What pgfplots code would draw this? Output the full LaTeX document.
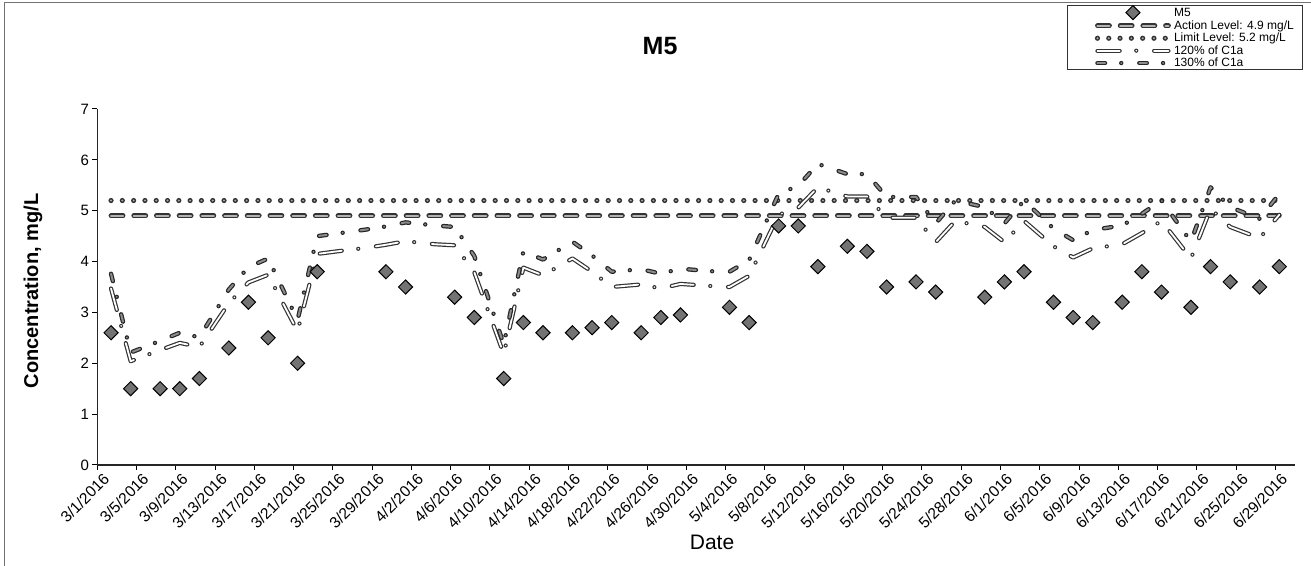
\documentclass[border=0pt]{standalone}
\usepackage{pgfplots}
\pgfplotsset{compat=1.18}
\usepackage{fontspec}
\setmainfont{Liberation Sans}

% outlined dash styles (dark edge drawn first, lighter core on top)
\tikzset{
  m5mk/.style={only marks, mark=square*, mark size=2.5bp, mark options={rotate=45, fill=black!55, draw=black, line width=0.5bp}},
  actout/.style={black!80, line width=2.4bp, line cap=round, line join=round, dash pattern=on 6bp off 5.35bp},
  actin/.style={black!30, line width=1.1bp, line cap=round, line join=round, dash pattern=on 6bp off 5.35bp},
  limout/.style={black!80, line width=2.6bp, line cap=round, dash pattern=on 0bp off 5.65bp},
  limin/.style={black!35, line width=1.1bp, line cap=round, dash pattern=on 0bp off 5.65bp},
  cAout/.style={black!80, line width=2.1bp, line cap=round, line join=round, dash pattern=on 11.1bp off 8.3bp on 0bp off 8.9bp},
  cAin/.style={white, line width=0.9bp, line cap=round, line join=round, dash pattern=on 11.1bp off 8.3bp on 0bp off 8.9bp},
  cBout/.style={black!85, line width=2.2bp, line cap=round, line join=round, dash pattern=on 3.8bp off 8.1bp on 0bp off 9bp},
  cBin/.style={black!45, line width=1.0bp, line cap=round, line join=round, dash pattern=on 3.8bp off 8.1bp on 0bp off 9bp},
}

\begin{document}
\begin{tikzpicture}
\path[use as bounding box] (-48.65bp,-50.5bp) rectangle (606.9bp,232.5bp);
\begin{axis}[
  scale only axis,
  width=598.9bp, height=178bp,
  xmin=0, xmax=122, ymin=0, ymax=7,
  axis lines*=left,
  axis line style={black!85, line width=0.6bp},
  tick align=outside,
  major tick length=2.5bp,
  tick style={black, line width=0.5bp},
  xtick={0,4,...,120},
  xticklabels={3/1/2016,3/5/2016,3/9/2016,3/13/2016,3/17/2016,3/21/2016,3/25/2016,3/29/2016,4/2/2016,4/6/2016,4/10/2016,4/14/2016,4/18/2016,4/22/2016,4/26/2016,4/30/2016,5/4/2016,5/8/2016,5/12/2016,5/16/2016,5/20/2016,5/24/2016,5/28/2016,6/1/2016,6/5/2016,6/9/2016,6/13/2016,6/17/2016,6/21/2016,6/25/2016,6/29/2016},
  xticklabel style={rotate=45, anchor=east, font=\fontsize{7.8bp}{8bp}\selectfont, inner sep=1bp, yshift=-5.5bp, xshift=2bp},
  ytick={0,1,...,7},
  yticklabel style={font=\fontsize{7.5bp}{8bp}\selectfont, inner xsep=1.5bp},
  /pgf/number format/assume math mode=true,
  clip=false,
  legend cell align=left,
  legend style={at={(axis description cs:0.8096,1.2921)}, anchor=north west,
    draw=black!80, line width=0.5bp, inner xsep=3bp, inner ysep=0bp,
    font=\fontsize{6bp}{6bp}\selectfont, row sep=0pt,
    nodes={inner xsep=1.5bp, inner ysep=0.3bp, text height=4.6bp, text depth=1.0bp}},
]

% M5 results
\addplot[m5mk,
  legend image code/.code={\path[draw=none] (0bp,0bp) -- (46bp,0bp); \path[draw=none, m5mk] plot coordinates {(29.75bp,0bp)};}]
  coordinates {(1.4,2.6)(3.4,1.5)(6.4,1.5)(8.4,1.5)(10.4,1.7)(13.4,2.3)(15.4,3.2)(17.4,2.5)(20.4,2.0)(22.4,3.8)
  (29.4,3.8)(31.4,3.5)(36.4,3.3)(38.4,2.9)(41.4,1.7)(43.4,2.8)(45.4,2.6)(48.4,2.6)(50.4,2.7)(52.4,2.8)
  (55.4,2.6)(57.4,2.9)(59.4,2.95)(64.4,3.1)(66.4,2.8)(69.4,4.7)(71.4,4.7)(73.4,3.9)(76.4,4.3)(78.4,4.2)
  (80.4,3.5)(83.4,3.6)(85.4,3.4)(90.4,3.3)(92.4,3.6)(94.4,3.8)(97.4,3.2)(99.4,2.9)(101.4,2.8)(104.4,3.2)
  (106.4,3.8)(108.4,3.4)(111.4,3.1)(113.4,3.9)(115.4,3.6)(118.4,3.5)(120.4,3.9)};

% action level
\addplot[actout, forget plot] coordinates {(1.4,4.9)(120.4,4.9)};
\addplot[actin, legend image code/.code={\path[draw=none] (0bp,0bp) -- (46bp,0bp); \draw[actout] (12bp,0bp) -- (47.5bp,0bp); \draw[actin] (12bp,0bp) -- (47.5bp,0bp);}]
  coordinates {(1.4,4.9)(120.4,4.9)};

% limit level
\addplot[limout, forget plot] coordinates {(1.4,5.2)(120.4,5.2)};
\addplot[limin, legend image code/.code={\path[draw=none] (0bp,0bp) -- (46bp,0bp); \draw[limout] (12bp,0bp) -- (47.5bp,0bp); \draw[limin] (12bp,0bp) -- (47.5bp,0bp);}]
  coordinates {(1.4,5.2)(120.4,5.2)};

% 120% of C1a
\addplot[cAout, forget plot] coordinates {(1.4,3.47)(3.4,2.04)(6.4,2.26)(8.4,2.40)(10.4,2.32)(13.4,3.18)(15.4,3.59)(17.4,3.74)(20.4,2.63)(22.4,4.15)
  (24.4,4.20)(27.4,4.27)(29.4,4.33)(31.4,4.40)(34.4,4.34)(36.4,4.32)(38.4,3.79)(41.4,2.18)(43.4,3.88)(45.4,3.73)
  (48.4,4.06)(50.4,3.80)(52.4,3.50)(55.4,3.55)(57.4,3.47)(59.4,3.56)(62.4,3.52)(64.4,3.50)(66.4,3.72)(69.4,4.92)
  (71.4,5.06)(73.4,5.46)(76.4,5.28)(78.4,5.28)(80.4,4.86)(83.4,4.86)(85.4,4.38)(87.4,4.80)(90.4,4.68)(92.4,4.38)
  (94.4,4.80)(97.4,4.30)(99.4,4.08)(101.4,4.26)(104.4,4.34)(106.4,4.56)(108.4,4.80)(111.4,4.06)(113.4,5.04)(115.4,4.68)
  (118.4,4.46)(120.4,4.92)};
\addplot[cAin, legend image code/.code={\path[draw=none] (0bp,0bp) -- (46bp,0bp); \draw[cAout] (12bp,0bp) -- (47.5bp,0bp); \draw[cAin] (12bp,0bp) -- (47.5bp,0bp);}]
  coordinates {(1.4,3.47)(3.4,2.04)(6.4,2.26)(8.4,2.40)(10.4,2.32)(13.4,3.18)(15.4,3.59)(17.4,3.74)(20.4,2.63)(22.4,4.15)
  (24.4,4.20)(27.4,4.27)(29.4,4.33)(31.4,4.40)(34.4,4.34)(36.4,4.32)(38.4,3.79)(41.4,2.18)(43.4,3.88)(45.4,3.73)
  (48.4,4.06)(50.4,3.80)(52.4,3.50)(55.4,3.55)(57.4,3.47)(59.4,3.56)(62.4,3.52)(64.4,3.50)(66.4,3.72)(69.4,4.92)
  (71.4,5.06)(73.4,5.46)(76.4,5.28)(78.4,5.28)(80.4,4.86)(83.4,4.86)(85.4,4.38)(87.4,4.80)(90.4,4.68)(92.4,4.38)
  (94.4,4.80)(97.4,4.30)(99.4,4.08)(101.4,4.26)(104.4,4.34)(106.4,4.56)(108.4,4.80)(111.4,4.06)(113.4,5.04)(115.4,4.68)
  (118.4,4.46)(120.4,4.92)};

% 130% of C1a
\addplot[cBout, forget plot] coordinates {(1.4,3.76)(3.4,2.21)(6.4,2.44)(8.4,2.60)(10.4,2.51)(13.4,3.45)(15.4,3.89)(17.4,4.06)(20.4,2.85)(22.4,4.50)
  (24.4,4.55)(27.4,4.63)(29.4,4.69)(31.4,4.77)(34.4,4.71)(36.4,4.68)(38.4,4.11)(41.4,2.37)(43.4,4.20)(45.4,4.04)
  (48.4,4.39)(50.4,4.12)(52.4,3.80)(55.4,3.85)(57.4,3.76)(59.4,3.86)(62.4,3.81)(64.4,3.80)(66.4,4.03)(69.4,5.33)
  (71.4,5.49)(73.4,5.92)(76.4,5.72)(78.4,5.72)(80.4,5.27)(83.4,5.27)(85.4,4.75)(87.4,5.20)(90.4,5.07)(92.4,4.75)
  (94.4,5.20)(97.4,4.65)(99.4,4.42)(101.4,4.62)(104.4,4.71)(106.4,4.94)(108.4,5.20)(111.4,4.39)(113.4,5.46)(115.4,5.07)
  (118.4,4.84)(120.4,5.33)};
\addplot[cBin, legend image code/.code={\path[draw=none] (0bp,0bp) -- (46bp,0bp); \draw[cBout] (12bp,0bp) -- (47.5bp,0bp); \draw[cBin] (12bp,0bp) -- (47.5bp,0bp);}]
  coordinates {(1.4,3.76)(3.4,2.21)(6.4,2.44)(8.4,2.60)(10.4,2.51)(13.4,3.45)(15.4,3.89)(17.4,4.06)(20.4,2.85)(22.4,4.50)
  (24.4,4.55)(27.4,4.63)(29.4,4.69)(31.4,4.77)(34.4,4.71)(36.4,4.68)(38.4,4.11)(41.4,2.37)(43.4,4.20)(45.4,4.04)
  (48.4,4.39)(50.4,4.12)(52.4,3.80)(55.4,3.85)(57.4,3.76)(59.4,3.86)(62.4,3.81)(64.4,3.80)(66.4,4.03)(69.4,5.33)
  (71.4,5.49)(73.4,5.92)(76.4,5.72)(78.4,5.72)(80.4,5.27)(83.4,5.27)(85.4,4.75)(87.4,5.20)(90.4,5.07)(92.4,4.75)
  (94.4,5.20)(97.4,4.65)(99.4,4.42)(101.4,4.62)(104.4,4.71)(106.4,4.94)(108.4,5.20)(111.4,4.39)(113.4,5.46)(115.4,5.07)
  (118.4,4.84)(120.4,5.33)};

\legend{M5, Action Level: 4.9 mg/L, Limit Level: 5.2 mg/L, 120\% of C1a, 130\% of C1a}
\end{axis}

% chart frame, title and axis titles
\draw[black!55, line width=0.5bp] (-46.15bp,-52bp) -- (-46.15bp,231bp) -- (610bp,231bp);
\node[font=\bfseries\fontsize{12.5bp}{14bp}\selectfont] at (281.4bp,209.5bp) {M5};
\node[rotate=90, font=\bfseries\fontsize{10bp}{12bp}\selectfont] at (-32.2bp,87bp) {Concentration, mg/L};
\node[font=\fontsize{10.5bp}{12bp}\selectfont] at (307.4bp,-38.5bp) {Date};
\end{tikzpicture}
\end{document}
